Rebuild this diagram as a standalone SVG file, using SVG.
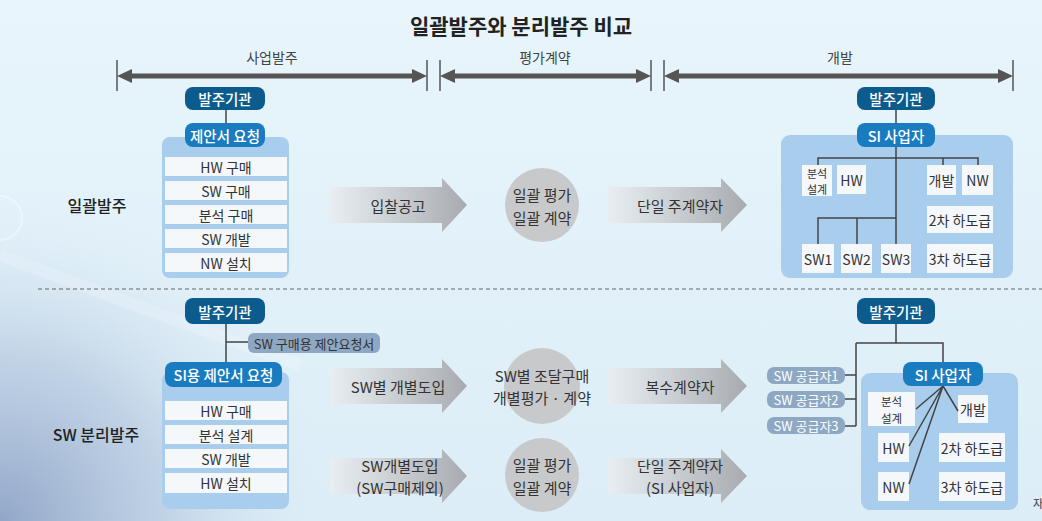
<svg xmlns="http://www.w3.org/2000/svg" width="1042" height="521" viewBox="0 0 1042 521">
<defs>
<style>
text{font-family:"Noto Sans CJK KR","Noto Sans",sans-serif;fill:#333;dominant-baseline:central;text-anchor:middle}
.title{font-size:21px;font-weight:700;fill:#222}
.hdr{font-size:14px;fill:#444}
.side{font-size:16px;font-weight:500;fill:#222}
.pd{fill:#0c5b8d}
.pl{fill:#1a7cc0}
.pg{fill:#8ea7c2}
.pt{font-size:14.5px;font-weight:500;fill:#fff}
.gt{font-size:13px;fill:#fff}
.gtd{font-size:13px;fill:#333}
.cont{fill:#a9cdec}
.box{fill:#f4f8fb}
.bt{font-size:14px;fill:#333}
.bs{font-size:11px;fill:#333}
.bs2{font-size:11.5px;fill:#333}
.at{font-size:15px;fill:#333}
.circ{fill:#c8c9cb}
.tl{stroke:#555;stroke-width:5;fill:none}
.tick{stroke:#555;stroke-width:1.5}
.ln{stroke:#444;stroke-width:1.5;fill:none}
.arr{fill:url(#ag)}
.dash{stroke:#666;stroke-width:1;stroke-dasharray:4 3}
</style>
<linearGradient id="bg" x1="0" y1="0" x2="0" y2="1">
<stop offset="0" stop-color="#e8f5fb"/>
<stop offset="1" stop-color="#dcedf7"/>
</linearGradient>
<radialGradient id="bl" cx="0" cy="521" r="330" gradientUnits="userSpaceOnUse">
<stop offset="0" stop-color="#8ea3c6" stop-opacity="0.95"/>
<stop offset="0.5" stop-color="#a9bcd7" stop-opacity="0.55"/>
<stop offset="1" stop-color="#dcecf6" stop-opacity="0"/>
</radialGradient>
<linearGradient id="ag" x1="0" y1="0" x2="1" y2="0">
<stop offset="0" stop-color="#e8eef2"/>
<stop offset="0.7" stop-color="#bcc0c4"/>
<stop offset="1" stop-color="#a7abaf"/>
</linearGradient>
<marker id="th" viewBox="0 0 15 14" markerWidth="15" markerHeight="14" refX="2" refY="7" orient="auto-start-reverse" markerUnits="userSpaceOnUse">
<path d="M0,0 L15,7 L0,14 Z" fill="#555"/>
</marker>
</defs>

<rect x="0" y="0" width="1042" height="521" fill="url(#bg)"/>
<rect x="0" y="0" width="1042" height="521" fill="url(#bl)"/>
<path d="M0,255 Q120,300 300,365" stroke="#ffffff" stroke-opacity="0.18" stroke-width="12" fill="none"/>
<circle cx="0" cy="218" r="22" fill="none" stroke="#ffffff" stroke-opacity="0.4" stroke-width="2"/>

<text class="title" x="521" y="25">일괄발주와 분리발주 비교</text>

<g id="timeline">
<text class="hdr" x="272" y="57">사업발주</text>
<text class="hdr" x="545" y="57">평가계약</text>
<text class="hdr" x="840" y="57">개발</text>
<line class="tick" x1="117" y1="60" x2="117" y2="91"/>
<line class="tick" x1="427" y1="60" x2="427" y2="91"/>
<line class="tick" x1="440" y1="60" x2="440" y2="91"/>
<line class="tick" x1="651" y1="60" x2="651" y2="91"/>
<line class="tick" x1="664" y1="60" x2="664" y2="91"/>
<line class="tick" x1="1013" y1="60" x2="1013" y2="91"/>
<line class="tl" x1="130" y1="76" x2="414" y2="76" marker-start="url(#th)" marker-end="url(#th)"/>
<line class="tl" x1="453" y1="76" x2="638" y2="76" marker-start="url(#th)" marker-end="url(#th)"/>
<line class="tl" x1="677" y1="76" x2="1000" y2="76" marker-start="url(#th)" marker-end="url(#th)"/>
</g>

<text class="side" x="97" y="205">일괄발주</text>
<text class="side" x="96" y="434">SW 분리발주</text>
<line class="dash" x1="38" y1="289" x2="1042" y2="289"/>

<g id="top-left">
<rect class="cont" x="162" y="137" width="127" height="141" rx="8"/>
<rect class="pd" x="185" y="87" width="80" height="23" rx="8"/>
<text class="pt" x="225" y="98.5">발주기관</text>
<rect class="pl" x="185" y="123" width="80" height="24" rx="8"/>
<text class="pt" x="225" y="135">제안서 요청</text>
<rect class="box" x="165" y="157" width="122" height="19"/>
<text class="bt" x="226" y="166.5">HW 구매</text>
<rect class="box" x="165" y="181" width="122" height="19"/>
<text class="bt" x="226" y="190.5">SW 구매</text>
<rect class="box" x="165" y="205" width="122" height="19"/>
<text class="bt" x="226" y="214.5">분석 구매</text>
<rect class="box" x="165" y="229" width="122" height="19"/>
<text class="bt" x="226" y="238.5">SW 개발</text>
<rect class="box" x="165" y="253" width="122" height="19"/>
<text class="bt" x="226" y="262.5">NW 설치</text>
</g>

<g id="top-mid">
<path class="arr" d="M330,187 H442 V178 L467,205 L442,232 V223 H330 Z"/>
<text class="at" x="398" y="205">입찰공고</text>
<circle class="circ" cx="542" cy="205" r="37"/>
<text class="at" x="542" y="194">일괄 평가</text>
<text class="at" x="542" y="217">일괄 계약</text>
<path class="arr" d="M608,187 H721 V178 L747,205 L721,232 V223 H608 Z"/>
<text class="at" x="680" y="205">단일 주계약자</text>
</g>

<g id="top-right">
<rect class="cont" x="781" y="135" width="232" height="143" rx="9"/>
<rect class="pd" x="857" y="87" width="78" height="23" rx="8"/>
<text class="pt" x="896" y="98.5">발주기관</text>
<rect class="pl" x="857" y="123" width="78" height="24" rx="8"/>
<text class="pt" x="896" y="135">SI 사업자</text>
<rect class="box" x="802" y="165" width="30" height="31"/>
<text class="bs" x="817" y="172.5">분석</text>
<text class="bs" x="817" y="188.5">설계</text>
<rect class="box" x="837" y="165" width="29" height="29"/>
<text class="bt" x="851.5" y="179.5">HW</text>
<rect class="box" x="927" y="165" width="29" height="30"/>
<text class="bt" x="941.5" y="180">개발</text>
<rect class="box" x="962" y="165" width="31" height="30"/>
<text class="bt" x="977.5" y="180">NW</text>
<rect class="box" x="927" y="206" width="66" height="27"/>
<text class="bt" x="960" y="219.5">2차 하도급</text>
<rect class="box" x="927" y="244" width="66" height="29"/>
<text class="bt" x="960" y="258.5">3차 하도급</text>
<rect class="box" x="802" y="244" width="32" height="29"/>
<text class="bt" x="818" y="258.5">SW1</text>
<rect class="box" x="841" y="244" width="31" height="29"/>
<text class="bt" x="856.5" y="258.5">SW2</text>
<rect class="box" x="881" y="244" width="30" height="29"/>
<text class="bt" x="896" y="258.5">SW3</text>
</g>

<g id="bottom-left">
<rect class="cont" x="162" y="372" width="127" height="137" rx="8"/>
<rect class="pd" x="185" y="298" width="80" height="26" rx="8"/>
<text class="pt" x="225" y="311">발주기관</text>
<rect class="pg" x="248" y="333" width="132" height="20" rx="6"/>
<text class="gtd" x="314" y="343">SW 구매용 제안요청서</text>
<rect class="pl" x="165" y="362" width="117" height="25" rx="8"/>
<text class="pt" x="223.5" y="374.5">SI용 제안서 요청</text>
<rect class="box" x="165" y="401" width="122" height="19"/>
<text class="bt" x="226" y="410.5">HW 구매</text>
<rect class="box" x="165" y="425" width="122" height="19"/>
<text class="bt" x="226" y="434.5">분석 설계</text>
<rect class="box" x="165" y="449" width="122" height="19"/>
<text class="bt" x="226" y="458.5">SW 개발</text>
<rect class="box" x="165" y="473" width="122" height="20"/>
<text class="bt" x="226" y="483">HW 설치</text>
</g>

<g id="bottom-mid">
<path class="arr" d="M330,368 H442 V359 L467,386 L442,413 V404 H330 Z"/>
<text class="at" x="398" y="386">SW별 개별도입</text>
<circle class="circ" cx="542" cy="386" r="38"/>
<text class="at" x="542" y="375">SW별 조달구매</text>
<text class="at" x="542" y="397">개별평가 · 계약</text>
<path class="arr" d="M608,368 H721 V359 L747,386 L721,413 V404 H608 Z"/>
<text class="at" x="680" y="386">복수계약자</text>
<path class="arr" d="M330,458 H442 V449 L467,476 L442,503 V494 H330 Z"/>
<text class="at" x="400" y="465">SW개별도입</text>
<text class="at" x="400" y="487">(SW구매제외)</text>
<circle class="circ" cx="542" cy="475" r="37"/>
<text class="at" x="542" y="464">일괄 평가</text>
<text class="at" x="542" y="487">일괄 계약</text>
<path class="arr" d="M608,458 H721 V449 L747,476 L721,503 V494 H608 Z"/>
<text class="at" x="680" y="465">단일 주계약자</text>
<text class="at" x="680" y="487">(SI 사업자)</text>
</g>

<g id="bottom-right">
<rect class="cont" x="861" y="373" width="157" height="137" rx="9"/>
<rect class="pd" x="857" y="298" width="78" height="26" rx="8"/>
<text class="pt" x="896" y="311">발주기관</text>
<rect class="pg" x="767" y="367" width="78" height="17" rx="7"/>
<text class="gt" x="806" y="375.5">SW 공급자1</text>
<rect class="pg" x="767" y="391" width="78" height="17" rx="7"/>
<text class="gt" x="806" y="399.5">SW 공급자2</text>
<rect class="pg" x="767" y="417" width="78" height="17" rx="7"/>
<text class="gt" x="806" y="425.5">SW 공급자3</text>
<rect class="box" x="868" y="392" width="47" height="34"/>
<text class="bs2" x="891.5" y="400.5">분석</text>
<text class="bs2" x="891.5" y="417.5">설계</text>
<rect class="box" x="958" y="395" width="30" height="28"/>
<text class="bt" x="973" y="409">개발</text>
<rect class="box" x="878" y="433" width="31" height="29"/>
<text class="bt" x="893.5" y="447.5">HW</text>
<rect class="box" x="939" y="433" width="66" height="29"/>
<text class="bt" x="972" y="447.5">2차 하도급</text>
<rect class="box" x="878" y="472" width="31" height="29"/>
<text class="bt" x="893.5" y="486.5">NW</text>
<rect class="box" x="939" y="472" width="66" height="29"/>
<text class="bt" x="972" y="486.5">3차 하도급</text>
</g>

<g id="connectors">
<line class="ln" x1="226" y1="110" x2="226" y2="123"/>
<line class="ln" x1="896" y1="110" x2="896" y2="123"/>
<path class="ln" d="M896,147 V244 M818,165 V158 H978 V165 M943,158 V165 M818,244 V218 H896 M857,218 V244"/>
<path class="ln" d="M226,324 V362 M226,342 H248"/>
<path class="ln" d="M896,324 V343 M856,343 H943 V362 M856,343 V426 M845,375 H856 M845,399 H856 M845,426 H856"/>
<path class="ln" d="M943,386 L916,409 M943,386 L909,446 M943,386 L909,484 M943,386 L958,411"/>
</g>

<g id="bottom-right-pill">
<rect class="pl" x="903" y="362" width="80" height="24" rx="8"/>
<text class="pt" x="943" y="374">SI 사업자</text>
</g>
<text x="1038" y="503" style="font-size:11px">자</text>
</svg>
